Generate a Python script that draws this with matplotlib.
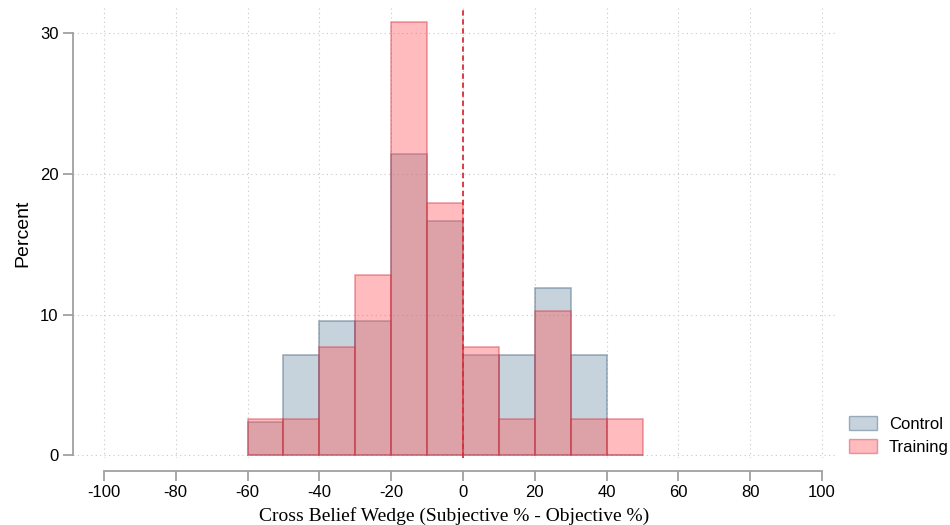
import matplotlib
matplotlib.use("Agg")
import matplotlib.pyplot as plt
from matplotlib.patches import Patch

# bin edges (width 10) and percentages per group
bin_left = [-60, -50, -40, -30, -20, -10, 0, 10, 20, 30, 40]
control_pct = [2.38, 7.14, 9.52, 9.52, 21.43, 16.67, 7.14, 7.14, 11.90, 7.14, 0.0]
training_pct = [2.56, 2.56, 7.69, 12.82, 30.77, 17.95, 7.69, 2.56, 10.26, 2.56, 2.56]
bin_width = 10

x_ticks = list(range(-100, 101, 20))
y_ticks = [0, 10, 20, 30]

ctrl_face = (0.46, 0.57, 0.66, 0.4)
ctrl_edge = (0.40, 0.50, 0.60, 0.6)
train_face = (1.0, 0.34, 0.36, 0.4)
train_edge = (0.85, 0.2, 0.25, 0.45)

fig = plt.figure(figsize=(9.5, 5.25), dpi=100)
ax = fig.add_axes([73 / 950, 1 - 458 / 525, (835 - 73) / 950, (458 - 8) / 525])

# control bars
ax.bar(bin_left, control_pct, width=bin_width, align="edge",
       color=ctrl_face, edgecolor=ctrl_edge, linewidth=1.2, zorder=2)
# training bars on top
ax.bar(bin_left, training_pct, width=bin_width, align="edge",
       color=train_face, edgecolor=train_edge, linewidth=1.2, zorder=3)

ax.axvline(0, color="#d62f3a", linestyle=(0, (3, 2)), linewidth=1.3, zorder=4)

ax.set_xlim(-108.6, 103.6)
ax.set_ylim(-0.2, 31.8)

ax.set_xticks(x_ticks)
ax.set_xticklabels([str(v) for v in x_ticks])
ax.set_yticks(y_ticks)

ax.grid(True, color="#c8c8c8", linestyle=(0, (1, 3)), linewidth=0.8, zorder=0)
ax.set_axisbelow(True)

for s in ["top", "right"]:
    ax.spines[s].set_visible(False)
ax.spines["left"].set_bounds(0, 30)
ax.spines["bottom"].set_bounds(-100, 100)
ax.spines["bottom"].set_position(("outward", 9))
ax.spines["left"].set_color("#a0a0a0")
ax.spines["bottom"].set_color("#a0a0a0")
ax.spines["left"].set_linewidth(1.3)
ax.spines["bottom"].set_linewidth(1.3)

ax.tick_params(axis="both", colors="#a0a0a0", labelcolor="black", labelsize=12, width=1.3, length=7)
for lab in ax.get_xticklabels() + ax.get_yticklabels():
    lab.set_family("Liberation Sans")

ax.set_ylabel("Percent", fontsize=14, family="Liberation Sans", labelpad=6)
ax.set_xlabel("Cross Belief Wedge (Subjective % - Objective %)", fontsize=14,
              family="Liberation Serif", labelpad=5)

handles = [Patch(facecolor=ctrl_face, edgecolor=ctrl_edge, label="Control"),
           Patch(facecolor=train_face, edgecolor=train_edge, label="Training")]
fig.legend(handles=handles, loc="lower left", bbox_to_anchor=(849 / 950, 1 - 455 / 525),
           frameon=False, prop={"family": "Liberation Sans", "size": 12},
           borderpad=0, borderaxespad=0,
           handlelength=1.7, handleheight=0.9, labelspacing=0.45, handletextpad=0.7)

fig.savefig("out.png", dpi=100)
